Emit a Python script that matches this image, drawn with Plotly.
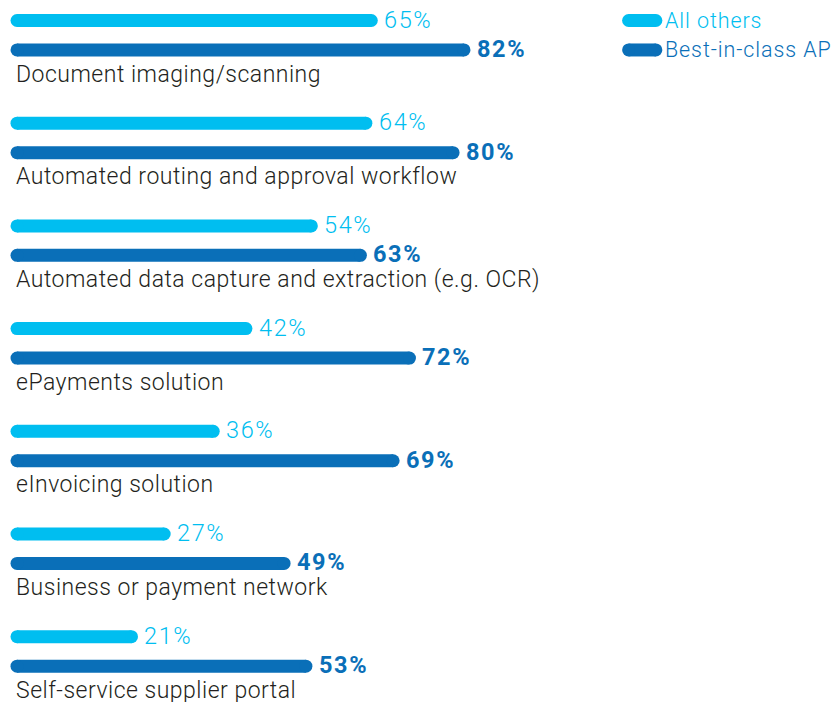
import plotly.graph_objects as go

# ---- data ----
categories = [
    "Document imaging/scanning",
    "Automated routing and approval workflow",
    "Automated data capture and extraction (e.g. OCR)",
    "ePayments solution",
    "eInvoicing solution",
    "Business or payment network",
    "Self-service supplier portal",
]
all_others = [65, 64, 54, 42, 36, 27, 21]
best_in_class = [82, 80, 63, 72, 69, 49, 53]
series_names = ["All others", "Best-in-class AP"]

# ---- style ----
LIGHT = "#00BEF0"
DARK = "#0A6FB8"
TEXT = "#231F20"
FONT = "Roboto"
BAR_W = 13
ROW_OFF = [0.0, 0.287]      # offset of each series row inside a group
LABEL_OFF = 0.521           # offset of category label inside a group
LEGEND_X = (112.2, 117.2)   # legend swatch span (x units)


def spaced(txt, px):
    return f'<span style="letter-spacing:{px}px">{txt}</span>'


series = [
    (all_others, LIGHT, 300),
    (best_in_class, DARK, 700),
]

fig = go.Figure()
for s, (vals, color, weight) in enumerate(series):
    for i, v in enumerate(vals):
        y = i + ROW_OFF[s]
        fig.add_trace(go.Scatter(
            x=[0, v], y=[y, y], mode="lines+markers",
            line=dict(color=color, width=BAR_W),
            marker=dict(size=BAR_W, color=color, line=dict(width=0)),
            showlegend=False, hoverinfo="skip"))
        fig.add_annotation(
            x=v, y=y, text=spaced(f"{v}%", 1.6), xanchor="left", yanchor="middle",
            xshift=11, yshift=1, showarrow=False,
            font=dict(family=FONT, size=23.5, color=color, weight=weight))
    # legend swatch
    fig.add_trace(go.Scatter(
        x=list(LEGEND_X), y=[ROW_OFF[s]] * 2, mode="lines+markers",
        line=dict(color=color, width=BAR_W),
        marker=dict(size=BAR_W, color=color, line=dict(width=0)),
        showlegend=False, hoverinfo="skip"))
    fig.add_annotation(
        x=LEGEND_X[1], y=ROW_OFF[s], text=spaced(series_names[s], 0.9),
        xanchor="left", yanchor="middle", xshift=7, showarrow=False,
        font=dict(family=FONT, size=21.5, color=color, weight=300))

for i, cat in enumerate(categories):
    fig.add_annotation(
        x=0, y=i + LABEL_OFF, text=spaced(cat, 0.5), xanchor="left",
        yanchor="middle", xshift=-3, showarrow=False,
        font=dict(family=FONT, size=23, color=TEXT, weight=300))

fig.update_layout(
    width=839, height=702, autosize=False,
    margin=dict(l=0, r=0, t=0, b=0),
    paper_bgcolor="white", plot_bgcolor="white",
    xaxis=dict(range=[-3.12, 150.8], visible=False, fixedrange=True),
    yaxis=dict(range=[6.636, -0.1996], visible=False, fixedrange=True),
)

fig.write_html("out.html")
